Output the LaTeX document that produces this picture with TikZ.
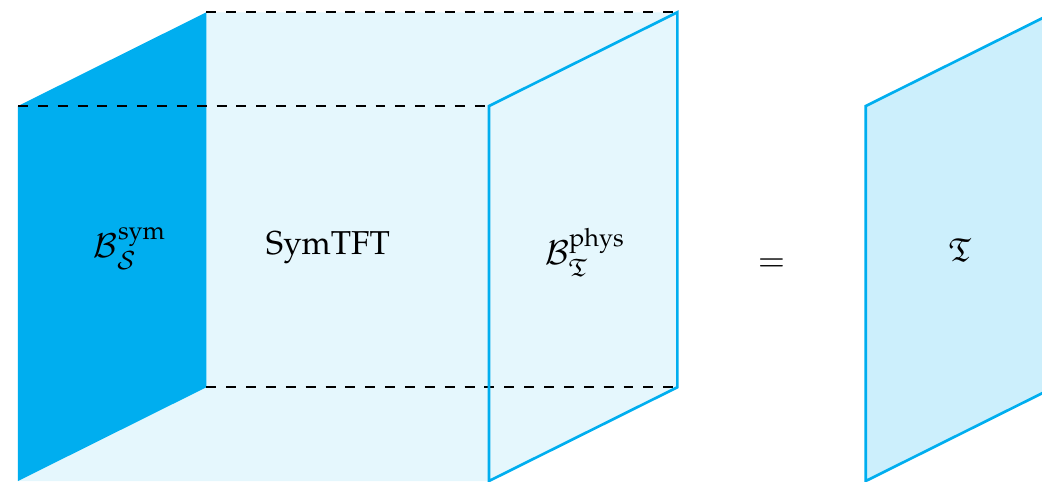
\documentclass[tikz,border=0pt]{standalone}
\usepackage[T1]{fontenc}
\usepackage{mathpazo}
\usepackage{amsmath,amssymb}
\definecolor{symblue}{HTML}{00AEEF}
\begin{document}
\begin{tikzpicture}[
  x=1cm, y=0.9952cm,
  bulk/.style={fill=symblue!10},
  symface/.style={fill=symblue},
  bdry/.style={draw=symblue, line width=0.8pt, line join=miter},
  slab/.style={bdry, fill=symblue!20},
  hidden/.style={draw=black, dashed, line width=0.6pt},
  lbl/.style={inner sep=0pt}
]
\useasboundingbox (-0.191,0) rectangle (10.871,5.131);
\clip (-0.191,0) rectangle (10.871,5.131);

% corners of the SymTFT slab: front face 5x4, depth offset (2,1)
\coordinate (fbl) at (0,0);
\coordinate (ftl) at (0,4);
\coordinate (fbr) at (5,0);
\coordinate (ftr) at (5,4);
\coordinate (bbl) at (2,1);
\coordinate (btl) at (2,5);
\coordinate (bbr) at (7,1);
\coordinate (btr) at (7,5);

% bulk of the SymTFT
\path[bulk] (fbl) -- (ftl) -- (btl) -- (btr) -- (bbr) -- (fbr) -- cycle;

% symmetry boundary
\path[symface] (fbl) -- (ftl) -- (btl) -- (bbl) -- cycle;

% hidden edges
\draw[hidden] (ftl) -- (ftr);
\draw[hidden] (btl) -- (btr);
\draw[hidden] (bbl) -- (bbr);

% physical boundary
\draw[bdry] (fbr) -- (ftr) -- (btr) -- (bbr) -- cycle;

% the theory after interval compactification
\coordinate (tbl) at (9,0);
\coordinate (ttl) at (9,4);
\coordinate (ttr) at (11,5);
\coordinate (tbr) at (11,1);
\draw[slab] (tbl) -- (ttl) -- (ttr) -- (tbr) -- cycle;

% labels
\node[lbl] (symlbl)  at (1.19,2.48) {$\mathcal{B}^{\text{sym}}_{\mathcal{S}}$};
\node[lbl] (tftlbl)  at (3.29,2.49) {SymTFT};
\node[lbl] (physlbl) at (6.02,2.44) {$\mathcal{B}^{\text{phys}}_{\mathfrak{T}}$};
\node[lbl] (eqlbl)   at (8.00,2.30) {$=$};
\node[lbl] (thylbl)  at (10.00,2.46) {$\mathfrak{T}$};
\end{tikzpicture}
\end{document}
